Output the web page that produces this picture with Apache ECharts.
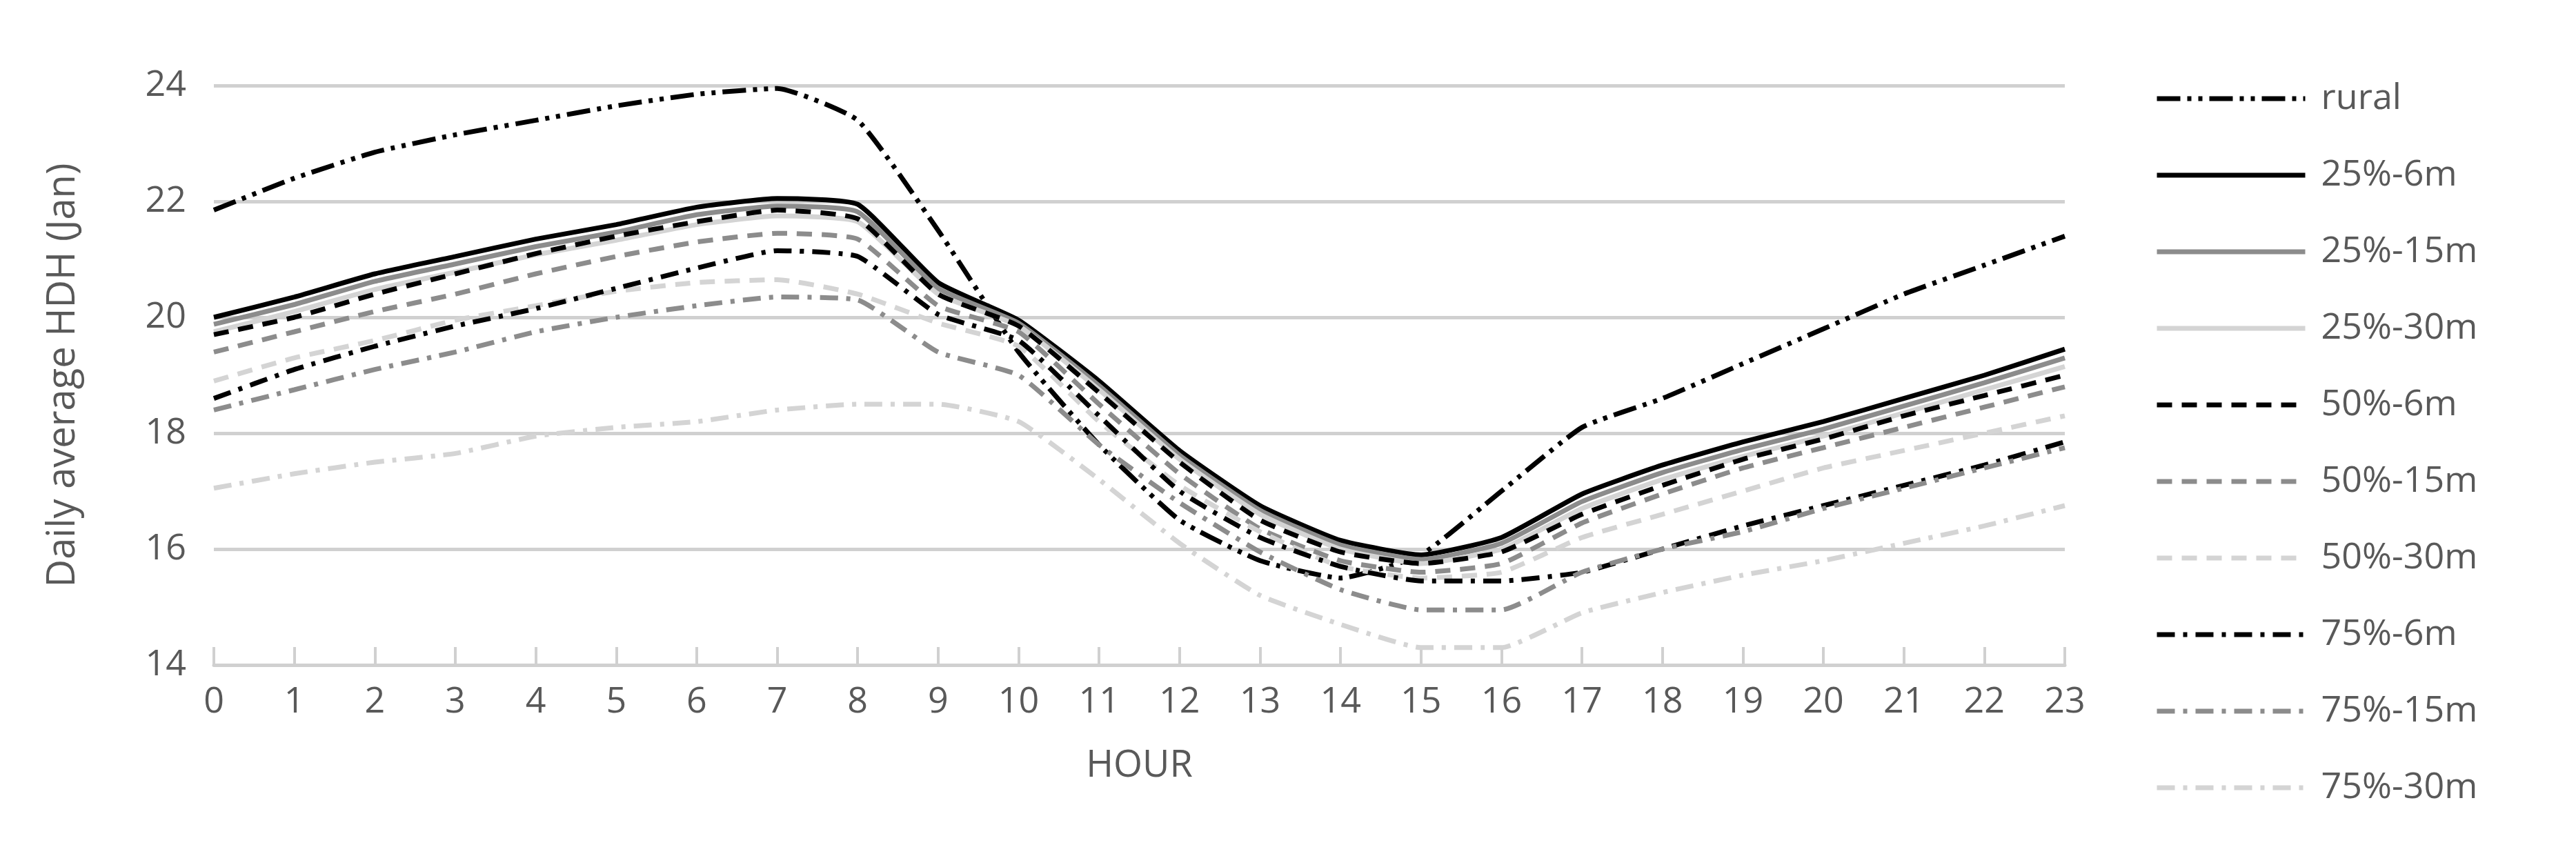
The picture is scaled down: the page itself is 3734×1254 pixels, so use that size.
<!DOCTYPE html>
<html>
<head>
<meta charset="utf-8">
<script src="https://cdn.jsdelivr.net/npm/echarts@6/dist/echarts.min.js"></script>
<style>html,body{margin:0;padding:0;background:#fff}#main{width:3734px;height:1254px}</style>
</head>
<body>
<div id="main"></div>
<script>
const hours = ['0','1','2','3','4','5','6','7','8','9','10','11','12','13','14','15','16','17','18','19','20','21','22','23'];
const rural  = [21.85,22.4,22.85,23.15,23.4,23.65,23.85,23.95,23.4,21.5,19.4,17.8,16.5,15.8,15.5,15.9,17.0,18.1,18.6,19.2,19.8,20.4,20.9,21.4];
const p25m6  = [20.0,20.35,20.75,21.05,21.35,21.6,21.9,22.05,21.95,20.6,19.95,18.9,17.7,16.75,16.15,15.9,16.2,16.95,17.45,17.85,18.2,18.6,19.0,19.45];
const p25m15 = [19.88,20.22,20.62,20.92,21.22,21.47,21.77,21.92,21.82,20.5,19.9,18.82,17.62,16.67,16.07,15.82,16.1,16.82,17.32,17.72,18.07,18.47,18.87,19.3];
const p25m30 = [19.75,20.1,20.48,20.78,21.08,21.33,21.6,21.75,21.65,20.4,19.85,18.75,17.55,16.6,16.0,15.75,16.0,16.7,17.2,17.6,17.95,18.35,18.75,19.15];
const p50m6  = [19.7,20.0,20.4,20.75,21.1,21.4,21.65,21.85,21.7,20.4,19.85,18.7,17.5,16.5,15.95,15.75,15.95,16.6,17.1,17.55,17.9,18.3,18.65,19.0];
const p50m15 = [19.4,19.75,20.1,20.4,20.75,21.05,21.3,21.45,21.35,20.2,19.75,18.5,17.3,16.35,15.8,15.6,15.75,16.45,16.95,17.4,17.75,18.1,18.45,18.8];
const p50m30 = [18.9,19.3,19.6,19.95,20.2,20.45,20.6,20.65,20.4,19.9,19.5,18.2,17.1,16.3,15.7,15.5,15.6,16.2,16.6,17.0,17.4,17.7,18.0,18.3];
const p75m6  = [18.6,19.1,19.5,19.85,20.15,20.5,20.85,21.15,21.05,20.05,19.6,18.3,17.0,16.2,15.7,15.45,15.45,15.6,16.0,16.4,16.75,17.1,17.45,17.85];
const p75m15 = [18.4,18.75,19.1,19.4,19.75,20.0,20.2,20.35,20.3,19.4,19.0,17.8,16.8,15.95,15.3,14.95,14.95,15.6,16.0,16.3,16.7,17.05,17.4,17.75];
const p75m30 = [17.05,17.3,17.5,17.65,17.95,18.1,18.2,18.4,18.5,18.5,18.2,17.2,16.1,15.2,14.7,14.3,14.3,14.9,15.25,15.55,15.8,16.1,16.4,16.75];

const BLACK = '#000000', MID = '#8c8c8c', LIGHT = '#d4d4d4';
const DASH = [22, 14], DASHDOT = [26, 12, 6, 12], DASHDOTDOT = [34, 10, 6, 10, 6, 10];

function mk(name, data, color, type) {
    return {
        name, type: 'line', data, symbol: 'none', smooth: 0.15,
        lineStyle: { color, width: 7, type },
        itemStyle: { color }
    };
}

const series = [
    mk('rural', rural, BLACK, DASHDOTDOT),
    mk('25%-6m', p25m6, BLACK, 'solid'),
    mk('25%-15m', p25m15, MID, 'solid'),
    mk('25%-30m', p25m30, LIGHT, 'solid'),
    mk('50%-6m', p50m6, BLACK, DASH),
    mk('50%-15m', p50m15, MID, DASH),
    mk('50%-30m', p50m30, LIGHT, DASH),
    mk('75%-6m', p75m6, BLACK, DASHDOT),
    mk('75%-15m', p75m15, MID, DASHDOT),
    mk('75%-30m', p75m30, LIGHT, DASHDOT)
];

const chart = echarts.init(document.getElementById('main'));
chart.setOption({
    animation: false,
    textStyle: { fontFamily: '"Open Sans", "DejaVu Sans", sans-serif', color: '#595959' },
    grid: { left: 310, right: 741, top: 124, bottom: 290 },
    legend: {
        orient: 'vertical', left: 3118, top: 112,
        itemWidth: 215, itemHeight: 20, itemGap: 59,
        itemStyle: { opacity: 0 },
        lineStyle: { width: 7 },
        textStyle: { fontSize: 52, color: '#595959', padding: [0, 0, 0, 18] },
        data: series.map(s => s.name)
    },
    xAxis: {
        type: 'category', data: hours, boundaryGap: false,
        name: 'HOUR', nameLocation: 'middle', nameGap: 120,
        nameTextStyle: { fontSize: 54, color: '#595959' },
        axisLine: { lineStyle: { color: '#d0d0d0', width: 5 } },
        axisTick: { show: true, length: 26, inside: true, lineStyle: { color: '#d0d0d0', width: 4 } },
        axisLabel: { fontSize: 52, color: '#595959', margin: 28 }
    },
    yAxis: {
        type: 'value', min: 14, max: 24, interval: 2,
        name: 'Daily average HDH (Jan)', nameLocation: 'middle', nameGap: 190,
        nameTextStyle: { fontSize: 56, color: '#595959' },
        axisLine: { show: false }, axisTick: { show: false },
        axisLabel: { fontSize: 52, color: '#595959', margin: 40 },
        splitLine: { lineStyle: { color: '#d0d0d0', width: 5 } }
    },
    series
});
</script>
</body>
</html>
